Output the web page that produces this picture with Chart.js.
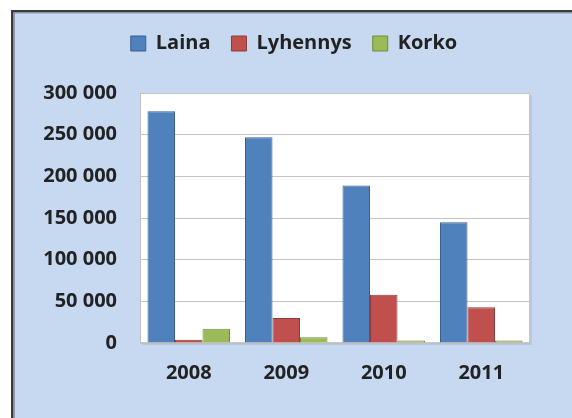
<!DOCTYPE html>
<html>
<head>
<meta charset="utf-8">
<script src="https://cdn.jsdelivr.net/npm/chart.js@4.4.1/dist/chart.umd.min.js"></script>
<style>
  html, body { margin: 0; padding: 0; background: #fff; }
  canvas { display: block; }
</style>
</head>
<body>
<canvas id="loanChart" width="572" height="418"></canvas>
<script>
// values
const years = ["2008", "2009", "2010", "2011"];
const laina = [278000, 247000, 189000, 145000];
const lyhennys = [4000, 30000, 58000, 43000];
const korko = [17000, 7000, 3000, 3000];
const yTickLabels = ["0", "50 000", "100 000", "150 000", "200 000", "250 000", "300 000"];

const textColor = "#222";
const font = { family: "'Open Sans', sans-serif", size: 20, weight: "bold" };

// page frame, blue panel and white plot area
const framePlugin = {
  id: "frame",
  beforeDraw(chart) {
    const { ctx, width, height, chartArea: a } = chart;
    ctx.save();
    ctx.fillStyle = "#ffffff";
    ctx.fillRect(0, 0, width, height);
    ctx.fillStyle = "#c6d9f0";
    ctx.fillRect(13, 12, width - 13, height - 12);
    ctx.fillStyle = "#3a3a3a";
    ctx.fillRect(11, 10, 2.5, height - 10);
    ctx.fillRect(11, 10, width - 11, 2.5);
    ctx.fillStyle = "#8d9aab";
    ctx.fillRect(13.5, 12.5, 1.5, height - 12);
    ctx.fillRect(13.5, 12.5, width - 13, 1);
    // plot area with a faint shadow
    ctx.fillStyle = "#b9c8db";
    ctx.fillRect(a.left + 2, a.top + 2, a.width, a.height);
    ctx.fillStyle = "#ffffff";
    ctx.fillRect(a.left, a.top, a.width, a.height);
    ctx.strokeStyle = "#c8c8c8";
    ctx.lineWidth = 1;
    ctx.strokeRect(a.left + 0.5, a.top + 0.5, a.width - 1, a.height - 1);
    ctx.restore();
  }
};

new Chart(document.getElementById("loanChart"), {
  type: "bar",
  data: {
    labels: years,
    datasets: [
      { label: "Laina", data: laina, backgroundColor: "#4f81bd", borderColor: "#3b5f8c", borderWidth: 1 },
      { label: "Lyhennys", data: lyhennys, backgroundColor: "#c0504d", borderColor: "#8e3b39", borderWidth: 1 },
      { label: "Korko", data: korko, backgroundColor: "#9bbb59", borderColor: "#728a41", borderWidth: 1 },
    ],
  },
  options: {
    responsive: false,
    animation: false,
    layout: { padding: { left: 40, right: 24, top: 12.5, bottom: 0 } },
    datasets: { bar: { categoryPercentage: 0.846, barPercentage: 1 } },
    plugins: {
      legend: {
        position: "top",
        labels: { boxWidth: 15, boxHeight: 15, padding: 21, color: textColor, font },
      },
      // empty title used as a spacer between the legend and the plot
      title: {
        display: true,
        text: "",
        weight: 500,
        font: { size: 10, lineHeight: 1 },
        padding: { top: 0, bottom: 19.5 },
      },
      tooltip: { enabled: false },
    },
    scales: {
      x: {
        grid: { display: false, drawTicks: false },
        border: { color: "#bfbfbf" },
        ticks: { color: textColor, font, padding: 18 },
        afterFit(scale) { scale.width = 0; scale.height = 75; },
      },
      y: {
        min: 0,
        max: 300000,
        grid: { color: "#c4c4c4", drawTicks: false },
        border: { color: "#bfbfbf" },
        ticks: {
          stepSize: 50000,
          color: textColor,
          font,
          padding: 23,
          callback: (value, index) => yTickLabels[index],
        },
        afterFit(scale) { scale.width = 100; },
      },
      // empty right margin so the legend centres like the reference
      yRight: {
        position: "right",
        grid: { display: false, drawOnChartArea: false },
        border: { display: false },
        ticks: { display: false },
        afterFit(scale) { scale.width = 18; },
      },
    },
  },
  plugins: [framePlugin],
});
</script>
</body>
</html>
